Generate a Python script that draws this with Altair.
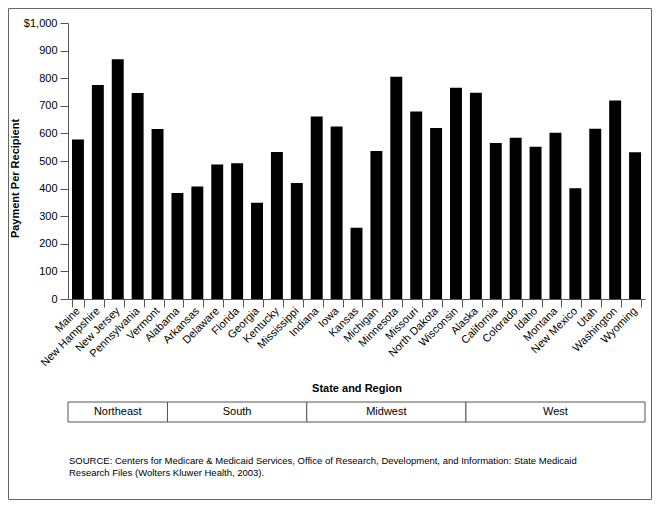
import altair as alt
import pandas as pd

states = ["Maine", "New Hampshire", "New Jersey", "Pennsylvania", "Vermont",
          "Alabama", "Arkansas", "Delaware", "Florida", "Georgia", "Kentucky", "Mississippi",
          "Indiana", "Iowa", "Kansas", "Michigan", "Minnesota", "Missouri", "North Dakota", "Wisconsin",
          "Alaska", "California", "Colorado", "Idaho", "Montana", "New Mexico", "Utah", "Washington", "Wyoming"]
payments = [578, 775, 869, 746, 616,
            384, 408, 487, 492, 349, 533, 420,
            661, 625, 258, 536, 805, 679, 620, 765,
            747, 565, 584, 552, 602, 401, 617, 719, 532]
regions = ["Northeast", "South", "Midwest", "West"]
region_sizes = [5, 7, 8, 9]
source_lines = [
    "SOURCE: Centers for Medicare & Medicaid Services, Office of Research, Development, and Information: State Medicaid",
    "Research Files (Wolters Kluwer Health, 2003).",
]

df = pd.DataFrame({"state": states, "payment": payments})
starts, ends, acc = [], [], 0
for n in region_sizes:
    starts.append(acc)
    acc += n
    ends.append(acc)
reg_df = pd.DataFrame({"region": regions, "start": starts, "end": ends})
reg_df["mid"] = (reg_df["start"] + reg_df["end"]) / 2

FONT = "Liberation Sans"
W, H = 577, 276
AX = "#555555"
qscale = alt.Scale(domain=[0, len(states)], nice=False, zero=False)

border = alt.Chart(pd.DataFrame({"a": [0]})).mark_rect(
    fill="white", fillOpacity=0, stroke="#666666", strokeWidth=1
).encode(
    x=alt.value(-59.5), x2=alt.value(583.5), y=alt.value(-14.5), y2=alt.value(476.5)
)

bars = alt.Chart(df).mark_bar(color="black").encode(
    x=alt.X("state:N", sort=states,
            scale=alt.Scale(paddingInner=0.4, paddingOuter=0.2),
            axis=alt.Axis(title="State and Region", labelAngle=-45, labelAlign="right",
                          labelBaseline="middle", tickBand="extent", tickSize=8, labelPadding=2,
                          domainColor=AX, tickColor=AX, labelFont=FONT, labelFontSize=11,
                          labelColor="black", titleFont=FONT, titleFontSize=11,
                          titleFontWeight="bold", titleColor="black", titleY=89,
                          titleBaseline="middle")),
    y=alt.Y("payment:Q", scale=alt.Scale(domain=[0, 1000], nice=False),
            axis=alt.Axis(title="Payment Per Recipient", values=list(range(0, 1001, 100)),
                          grid=False, tickSize=8, labelPadding=3, domainColor=AX, tickColor=AX,
                          labelExpr="datum.value == 1000 ? '$1,000' : datum.label",
                          labelFont=FONT, labelFontSize=11, labelColor="black",
                          titleFont=FONT, titleFontSize=11, titleFontWeight="bold",
                          titleColor="black", titleX=-53, titleY=155, titleBaseline="middle")),
)

reg_rect = alt.Chart(reg_df).mark_rect(fill="white", stroke=AX, strokeWidth=1).encode(
    x=alt.X("start:Q", scale=qscale, axis=None),
    x2="end:Q",
    y=alt.value(379), y2=alt.value(399),
)
reg_text = alt.Chart(reg_df).mark_text(font=FONT, fontSize=11, color="black", baseline="middle").encode(
    x=alt.X("mid:Q", scale=qscale, axis=None),
    y=alt.value(389),
    text="region:N",
)

src = alt.Chart(pd.DataFrame({"t": ["\n".join(source_lines)]})).mark_text(
    font=FONT, fontSize=9.5, color="black", align="left", baseline="alphabetic",
    lineBreak="\n", lineHeight=12
).encode(x=alt.value(1), y=alt.value(441), text="t:N")

chart = alt.layer(border, bars, reg_rect, reg_text, src).resolve_scale(x="independent").properties(
    width=W, height=H,
    autosize=alt.AutoSizeParams(type="none"),
    padding={"left": 60, "top": 15, "right": 7, "bottom": 201},
).configure_view(stroke=None)

chart.save("out.html", embed_options={"renderer": "svg", "actions": False})
